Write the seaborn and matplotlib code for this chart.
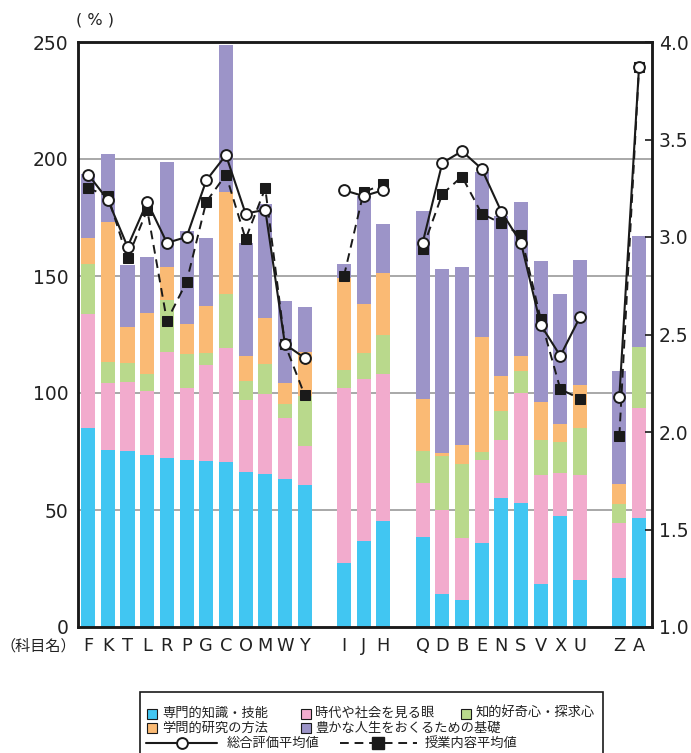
import numpy as np
import pandas as pd
import matplotlib
matplotlib.use("Agg")
import matplotlib.pyplot as plt
import seaborn as sns
from matplotlib.patches import Rectangle
from matplotlib.lines import Line2D

# ---------------- data ----------------
subjects = ["F", "K", "T", "L", "R", "P", "G", "C", "O", "M", "W", "Y",
            "I", "J", "H",
            "Q", "D", "B", "E", "N", "S", "V", "X", "U",
            "Z", "A"]
groups = [1] * 12 + [2] * 3 + [3] * 9 + [4] * 2

# segment values (%)
senmon = [85.1, 75.7, 75.3, 73.6, 72.3, 71.4, 71.0, 70.6, 66.3, 65.2, 63.4, 60.8,
          27.4, 36.8, 45.3,
          38.5, 14.1, 11.5, 35.9, 55.1, 53.0, 18.5, 47.5, 20.1,
          20.9, 46.5]
jidai = [48.5, 28.6, 29.2, 27.4, 45.2, 30.7, 41.1, 48.6, 30.7, 34.4, 25.9, 16.6,
         74.9, 69.2, 63.0,
         23.0, 36.0, 26.7, 35.6, 25.0, 47.0, 46.5, 18.3, 44.8,
         23.4, 47.1]
chiteki = [21.7, 8.9, 8.4, 7.1, 22.4, 14.5, 5.1, 23.3, 8.3, 12.8, 6.0, 21.3,
           7.7, 11.1, 16.5,
           13.7, 23.1, 31.6, 3.4, 12.2, 9.4, 15.1, 13.3, 20.2,
           8.2, 26.2]
gakumon = [10.9, 59.9, 15.1, 25.9, 13.9, 13.0, 20.1, 43.4, 10.5, 19.5, 9.1, 18.8,
           39.3, 20.9, 26.5,
           22.4, 1.2, 8.0, 49.0, 15.0, 6.4, 16.2, 7.7, 18.3,
           8.6, 0.0]
yutaka = [27.4, 29.0, 26.7, 24.1, 44.9, 39.6, 28.9, 62.8, 48.3, 48.9, 34.9, 19.3,
          5.8, 46.3, 20.9,
          80.2, 78.6, 76.0, 70.5, 68.3, 65.8, 60.1, 55.5, 53.4,
          48.2, 47.2]

# averages (right axis)
sougou = [3.32, 3.19, 2.95, 3.18, 2.97, 3.00, 3.29, 3.42, 3.12, 3.14, 2.45, 2.38,
          3.24, 3.21, 3.24,
          2.97, 3.38, 3.44, 3.35, 3.13, 2.97, 2.55, 2.39, 2.59,
          2.18, 3.87]
jugyou = [3.25, 3.21, 2.89, 3.14, 2.57, 2.77, 3.18, 3.32, 2.99, 3.25, 2.45, 2.19,
          2.80, 3.23, 3.27,
          2.94, 3.22, 3.31, 3.12, 3.07, 3.01, 2.58, 2.22, 2.17,
          1.98, 3.87]

series_names = ["専門的知識・技能", "時代や社会を見る眼", "知的好奇心・探求心",
                "学問的研究の方法", "豊かな人生をおくるための基礎"]
series_colors = ["#41C6F2", "#F2ABCD", "#B9D98C", "#FABA74", "#9C94C8"]
line_names = ["総合評価平均値", "授業内容平均値"]

# ---------------- layout positions (one empty slot between groups) ----------------
pos = []
p = 0
prev = groups[0]
for g in groups:
    if g != prev:
        p += 1
        prev = g
    pos.append(p)
    p += 1

df = pd.DataFrame({"pos": pos, "subject": subjects, "group": groups,
                   "s0": senmon, "s1": jidai, "s2": chiteki, "s3": gakumon, "s4": yutaka,
                   "sougou": sougou, "jugyou": jugyou})
cum = df[["s0", "s1", "s2", "s3", "s4"]].cumsum(axis=1)

# ---------------- figure ----------------
sns.set_style("white")
plt.rcParams["font.family"] = ["DejaVu Sans", "Noto Sans CJK JP"]

W, H = 691, 753
fig = plt.figure(figsize=(W / 100, H / 100), dpi=100)
ax = fig.add_axes([78 / W, 1 - 627 / H, (652 - 78) / W, (627 - 42) / H])

# stacked bars drawn as overlaid cumulative bars (top series first)
for i in range(4, -1, -1):
    sns.barplot(x=df["pos"], y=cum[f"s{i}"], native_scale=True, color=series_colors[i],
                saturation=1, width=0.72, errorbar=None, linewidth=0, ax=ax, zorder=2)

ax.set_ylim(0, 250)
ax.set_xlim(-0.52, 28.66)
ax.set_yticks([0, 50, 100, 150, 200, 250])
ax.set_yticklabels(["0", "50", "100", "150", "200", "250"])
ax.set_xticks(df["pos"])
ax.set_xticklabels(subjects)
ax.set_xlabel("")
ax.set_ylabel("")
for yv in [50, 100, 150, 200]:
    ax.axhline(yv, color="#999999", lw=1.2, zorder=1)
ax.tick_params(axis="y", length=0, pad=7, labelsize=13.5, labelcolor="#222222")
ax.tick_params(axis="x", length=0, pad=7.5, labelsize=12.8, labelcolor="#222222")
for s in ax.spines.values():
    s.set_color("#1a1a1a")
    s.set_linewidth(1.8)
    s.set_zorder(5)

# right axis with average lines
ax2 = ax.twinx()
sns.lineplot(data=df, x="pos", y="jugyou", units="group", estimator=None, ax=ax2,
             color="#1a1a1a", lw=1.4, linestyle=(0, (4.5, 3)), marker="s",
             markersize=6.5, markerfacecolor="#1a1a1a", markeredgecolor="#1a1a1a",
             legend=False, zorder=3)
sns.lineplot(data=df, x="pos", y="sougou", units="group", estimator=None, ax=ax2,
             color="#1a1a1a", lw=1.5, marker="o", markersize=7.8,
             markerfacecolor="white", markeredgecolor="#1a1a1a", markeredgewidth=1.4,
             legend=False, zorder=4)
ax2.set_ylim(1.0, 4.0)
ax2.set_yticks([1.0, 1.5, 2.0, 2.5, 3.0, 3.5, 4.0])
ax2.set_yticklabels(["1.0", "1.5", "2.0", "2.5", "3.0", "3.5", "4.0"])
ax2.set_ylabel("")
ax2.set_xlabel("")
ax2.tick_params(axis="y", direction="in", length=5, width=1.2, pad=5,
                labelsize=13.5, labelcolor="#222222", color="#1a1a1a")
for s in ax2.spines.values():
    s.set_color("#1a1a1a")
    s.set_linewidth(1.8)
ax.set_xlim(-0.52, 28.66)

# axis annotations
fig.text(95 / W, 1 - 20 / H, "( % )", fontsize=11.5, ha="center", va="center",
         color="#222222", family=["DejaVu Sans"])
fig.text(76 / W, 1 - 646 / H, "（科目名）", fontsize=10.9, ha="right", va="center",
         color="#222222", family=["Noto Sans CJK JP", "DejaVu Sans"])

# ---------------- legend (drawn manually in figure pixels) ----------------
def fx(x):
    return x / W

def fy(y):
    return 1 - y / H

fig.add_artist(Rectangle((fx(139.5), fy(770)), fx(603) - fx(139.5), fy(691.5) - fy(770),
                         transform=fig.transFigure, facecolor="white",
                         edgecolor="#1a1a1a", lw=1.2))
leg_font = dict(fontsize=9.5, va="center", ha="left", color="#222222",
                family=["Noto Sans CJK JP", "DejaVu Sans"])
items = [(147, 713.5, 0), (300.5, 713.5, 1), (460.5, 713.5, 2),
         (147, 728, 3), (300.5, 728, 4)]
for x0, yc, k in items:
    fig.add_artist(Rectangle((fx(x0), fy(yc + 5)), 10 / W, 10 / H,
                             transform=fig.transFigure, facecolor=series_colors[k],
                             edgecolor="#1a1a1a", lw=0.8))
    fig.text(fx(x0 + 15), fy(yc), series_names[k], **leg_font)

yl = 743
fig.add_artist(Line2D([fx(146), fx(217)], [fy(yl), fy(yl)], transform=fig.transFigure,
                      color="#1a1a1a", lw=1.5))
fig.add_artist(Line2D([fx(181.5)], [fy(yl)], transform=fig.transFigure, marker="o",
                      markersize=7.8, markerfacecolor="white", markeredgecolor="#1a1a1a",
                      markeredgewidth=1.4, linestyle="none"))
fig.text(fx(227), fy(yl), line_names[0], **leg_font)
fig.add_artist(Line2D([fx(340), fx(417)], [fy(yl), fy(yl)], transform=fig.transFigure,
                      color="#1a1a1a", lw=1.4, linestyle=(0, (4.5, 3))))
fig.add_artist(Line2D([fx(378)], [fy(yl)], transform=fig.transFigure, marker="s",
                      markersize=8, markerfacecolor="#1a1a1a", markeredgecolor="#1a1a1a",
                      linestyle="none"))
fig.text(fx(425), fy(yl), line_names[1], **leg_font)

fig.savefig("out.png", dpi=100)
